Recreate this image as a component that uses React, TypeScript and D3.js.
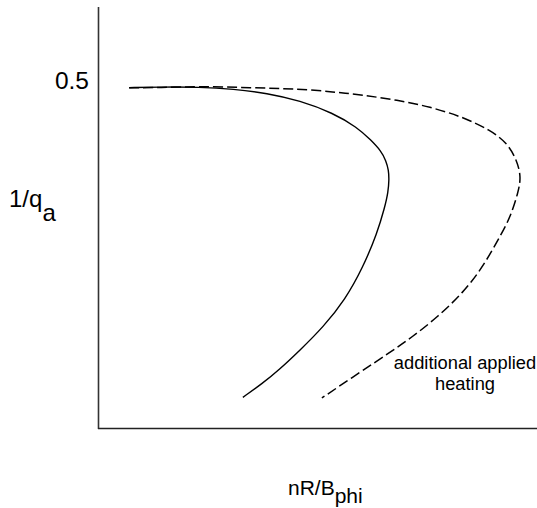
import React from "react";
import * as d3 from "d3";

// Operating-space trajectories: 1/q_a versus normalised density nR/B_phi
const ohmicX = [0.71, 1.41, 2.32, 3.08, 3.85, 4.6, 5.35, 5.9, 6.22, 6.45, 6.56, 6.62, 6.63, 6.61, 6.53, 6.36, 6.04, 5.63, 5.13, 4.6, 4.12, 3.74, 3.3];
const ohmicY = [0.499, 0.5, 0.5, 0.497, 0.491, 0.48, 0.462, 0.441, 0.422, 0.406, 0.392, 0.378, 0.364, 0.346, 0.323, 0.286, 0.236, 0.188, 0.148, 0.114, 0.085, 0.065, 0.045];

const heatedX = [0.71, 1.41, 2.32, 3.46, 4.6, 5.35, 6.04, 6.81, 7.56, 8.31, 8.93, 9.32, 9.54, 9.64, 9.57, 9.39, 9.2, 8.77, 8.31, 7.74, 7.15, 6.63, 5.95, 5.1];
const heatedY = [0.499, 0.499, 0.501, 0.499, 0.497, 0.493, 0.488, 0.481, 0.471, 0.456, 0.437, 0.418, 0.393, 0.368, 0.345, 0.309, 0.286, 0.236, 0.198, 0.163, 0.133, 0.11, 0.081, 0.044];

const yTicks = [0.5];
const annotation = ["additional applied", "heating"];

const W = 537;
const H = 508;
const FONT = "'Liberation Sans', Arial, sans-serif";

export default function App() {
  const x = d3.scaleLinear().domain([0, 10]).range([98, 537]);
  const y = d3.scaleLinear().domain([0, 0.5]).range([428, 87]);

  // B-spline through the sampled trajectory for a smooth outline
  const line = d3
    .line<[number, number]>()
    .x((d) => x(d[0]))
    .y((d) => y(d[1]))
    .curve(d3.curveBasis);

  const ohmic: [number, number][] = ohmicX.map((v, i) => [v, ohmicY[i]]);
  const heated: [number, number][] = heatedX.map((v, i) => [v, heatedY[i]]);

  return (
    <svg
      width={W}
      height={H}
      style={{ position: "absolute", left: 0, top: 0, background: "#fff" }}
      fontFamily={FONT}
    >
      {/* axes */}
      <line x1={98.5} y1={7} x2={98.5} y2={429} stroke="#333" strokeWidth={1.6} />
      <line x1={98} y1={428.5} x2={537} y2={428.5} stroke="#222" strokeWidth={1.6} />

      {yTicks.map((t) => (
        <text key={t} x={89} y={y(t) + 2} textAnchor="end" fontSize={24.5} fill="#000">
          {t.toFixed(1)}
        </text>
      ))}

      {/* axis titles */}
      <text x={9} y={207} fontSize={24} fill="#000">
        1/q
        <tspan dy={14}>a</tspan>
      </text>
      <text x={288} y={495} fontSize={21} fill="#000">
        nR/B
        <tspan dy={8}>phi</tspan>
      </text>

      {/* trajectories */}
      <path d={line(ohmic) ?? ""} fill="none" stroke="#000" strokeWidth={1.4} />
      <path
        d={line(heated) ?? ""}
        fill="none"
        stroke="#000"
        strokeWidth={1.5}
        strokeDasharray="10,4"
      />

      {annotation.map((s, i) => (
        <text key={s} x={465} y={369 + i * 21} textAnchor="middle" fontSize={18.3} fill="#000">
          {s}
        </text>
      ))}
    </svg>
  );
}
